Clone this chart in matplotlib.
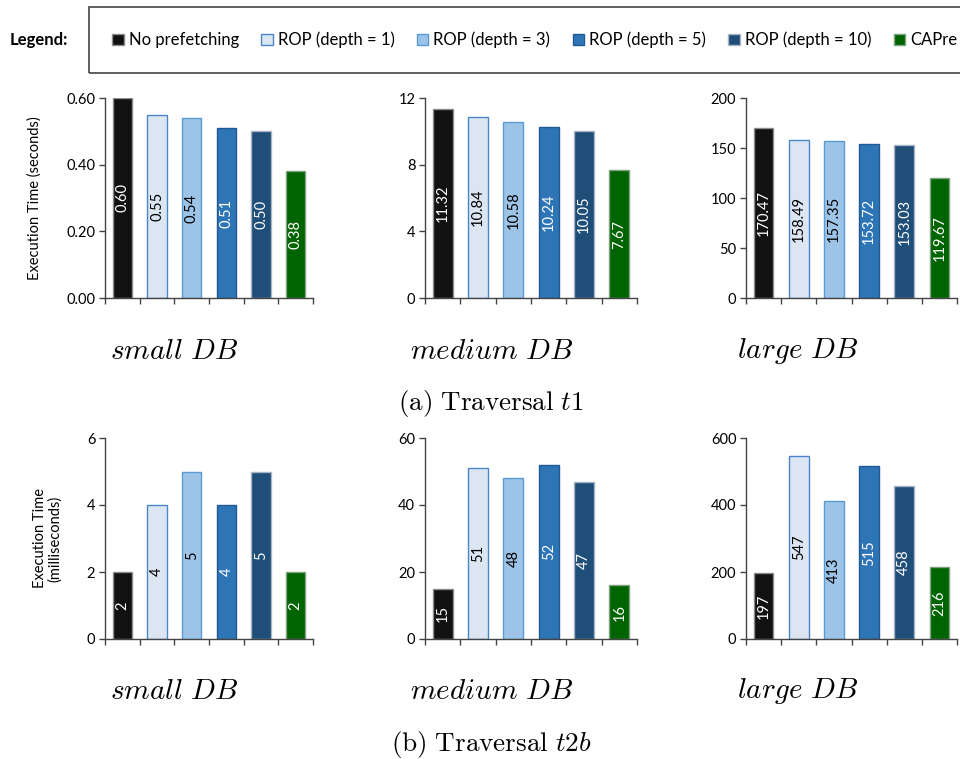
import matplotlib
matplotlib.use("Agg")
import matplotlib.pyplot as plt
from matplotlib.patches import Rectangle, Patch

plt.rcParams["mathtext.fontset"] = "cm"
plt.rcParams["font.family"] = ["Lato", "DejaVu Sans"]

# Series (one bar per configuration in each panel)
series = ["No prefetching", "ROP (depth = 1)", "ROP (depth = 3)",
          "ROP (depth = 5)", "ROP (depth = 10)", "CAPre"]
fill_colors = ["#111111", "#DCE6F2", "#9DC3E6", "#2E75B6", "#1F4E79", "#006400"]
edge_colors = ["#8C8C8C", "#4A86C8", "#5B9BD5", "#1F5A94", "#A6B4C4", "#7FA07F"]
label_colors = ["white", "black", "black", "white", "white", "white"]

db_sizes = ["small", "medium", "large"]

# Traversal t1 execution time (seconds)
t1_small = [0.60, 0.55, 0.54, 0.51, 0.50, 0.38]
t1_medium = [11.32, 10.84, 10.58, 10.24, 10.05, 7.67]
t1_large = [170.47, 158.49, 157.35, 153.72, 153.03, 119.67]

# Traversal t2b execution time (milliseconds)
t2b_small = [2, 4, 5, 4, 5, 2]
t2b_medium = [15, 51, 48, 52, 47, 16]
t2b_large = [197, 547, 413, 515, 458, 216]

t1_yticks = [[0.0, 0.2, 0.4, 0.6], [0, 4, 8, 12], [0, 50, 100, 150, 200]]
t2b_yticks = [[0, 2, 4, 6], [0, 20, 40, 60], [0, 200, 400, 600]]

W, H = 960, 759
fig = plt.figure(figsize=(W / 100, H / 100), dpi=100)


def px_axes(x0, x1, y_top, y_bot):
    return fig.add_axes([x0 / W, 1 - y_bot / H, (x1 - x0) / W, (y_bot - y_top) / H])


def draw_panel(ax, values, yticks, fmt, tickfmt):
    xs = list(range(len(values)))
    bars = ax.bar(xs, values, width=0.56, color=fill_colors,
                  edgecolor=edge_colors, linewidth=1.0, zorder=2)
    for b, v, c in zip(bars, values, label_colors):
        ax.text(b.get_x() + b.get_width() / 2, v / 2, fmt.format(v),
                rotation=90, ha="center", va="center", color=c,
                fontsize=10.5, zorder=3)
    ax.set_xlim(-0.5, len(values) - 0.5)
    ax.set_ylim(yticks[0], yticks[-1])
    ax.set_yticks(yticks)
    ax.set_yticklabels([tickfmt.format(t) for t in yticks], fontsize=10.5)
    ax.set_xticks([i - 0.5 for i in range(len(values) + 1)])
    ax.set_xticklabels([])
    for s in ("top", "right"):
        ax.spines[s].set_visible(False)
    for s in ("left", "bottom"):
        ax.spines[s].set_color("#444444")
        ax.spines[s].set_linewidth(1.0)
    ax.tick_params(axis="both", direction="out", length=4, width=1.0,
                   color="#444444", pad=3)
    ax.set_facecolor("none")


col_x = [(105, 313), (425, 637), (746, 957)]
t1_data = [t1_small, t1_medium, t1_large]
t2b_data = [t2b_small, t2b_medium, t2b_large]

for i, (x0, x1) in enumerate(col_x):
    ax = px_axes(x0, x1, 98, 298)
    tf = "{:.2f}" if i == 0 else "{:g}"
    draw_panel(ax, t1_data[i], t1_yticks[i], "{:.2f}", tf)
    if i == 0:
        ax.set_ylabel("Execution Time (seconds)", fontsize=10.5)
        ax.yaxis.set_label_coords((42 - x0) / (x1 - x0), 0.5)

    ax = px_axes(x0, x1, 438, 639)
    draw_panel(ax, t2b_data[i], t2b_yticks[i], "{:d}", "{:g}")
    if i == 0:
        ax.set_ylabel("Execution Time\n(milliseconds)", fontsize=10.5,
                      linespacing=1.1)
        ax.yaxis.set_label_coords((62 - x0) / (x1 - x0), 0.5)

# Panel captions
name_x = [174, 492, 798]
for nx, name in zip(name_x, db_sizes):
    fig.text(nx / W, 1 - 351 / H, r"$%s\ DB$" % name, ha="center", va="center",
             fontsize=21)
    fig.text(nx / W, 1 - 691 / H, r"$%s\ DB$" % name, ha="center", va="center",
             fontsize=21)
fig.text(491 / W, 1 - 404 / H, r"$\mathrm{(a)\ Traversal}\ \mathit{t1}$",
         ha="center", va="center", fontsize=19.5)
fig.text(491 / W, 1 - 744 / H, r"$\mathrm{(b)\ Traversal}\ \mathit{t2b}$",
         ha="center", va="center", fontsize=19.5)

# Legend strip
fig.patches.append(Rectangle((89 / W, 1 - 73 / H), (W + 20 - 89) / W, 66 / H,
                             transform=fig.transFigure, fill=False,
                             edgecolor="#444444", linewidth=1.2))
fig.text(10 / W, 1 - 40 / H, "Legend:", fontweight="bold", fontsize=12,
         ha="left", va="center")
handles = [Patch(facecolor=f, edgecolor=e, linewidth=1.0)
           for f, e in zip(fill_colors, edge_colors)]
fig.legend(handles, series, loc="center left", bbox_to_anchor=(112 / W, 1 - 40 / H),
           ncol=6, frameon=False, fontsize=12, handlelength=0.7,
           handleheight=0.7, handletextpad=0.3, columnspacing=1.33,
           borderaxespad=0, borderpad=0)

fig.savefig("out.png", dpi=100)
